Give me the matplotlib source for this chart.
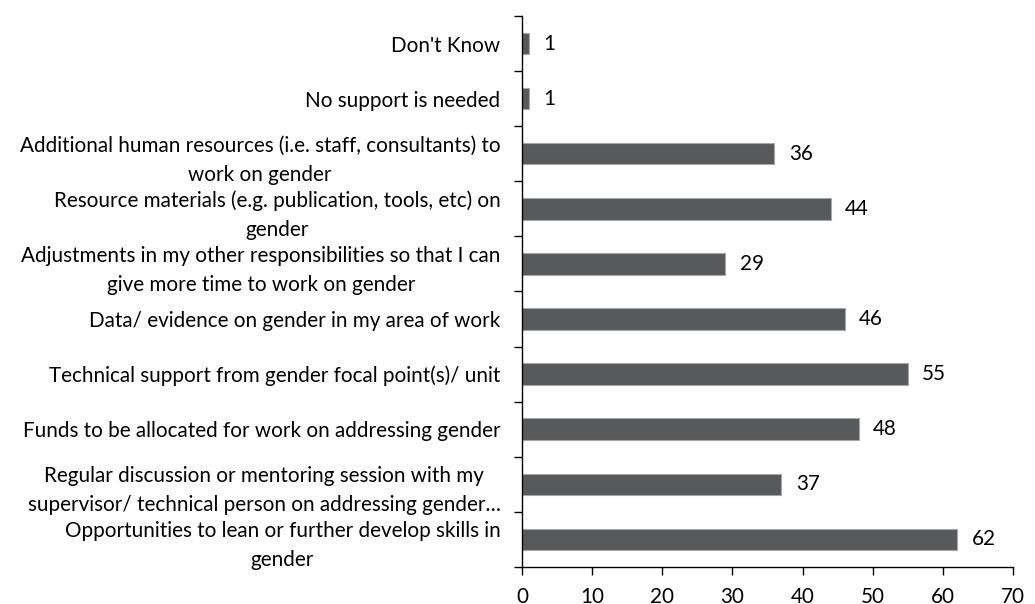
import numpy as np
import matplotlib.pyplot as plt

# survey responses: support needed to work on gender (top to bottom)
labels = [
    "Don't Know",
    "No support is needed",
    "Additional human resources (i.e. staff, consultants) to\nwork on gender",
    "Resource materials (e.g. publication, tools, etc) on\ngender",
    "Adjustments in my other responsibilities so that I can\ngive more time to work on gender",
    "Data/ evidence on gender in my area of work",
    "Technical support from gender focal point(s)/ unit",
    "Funds to be allocated for work on addressing gender",
    "Regular discussion or mentoring session with my\nsupervisor/ technical person on addressing gender\u2026",
    "Opportunities to lean or further develop skills in\ngender",
]
counts = [1, 1, 36, 44, 29, 46, 55, 48, 37, 62]
xticks = [0, 10, 20, 30, 40, 50, 60, 70]

plt.rcParams['font.family'] = ['Lato', 'DejaVu Sans']
FS = 14.9

fig = plt.figure(figsize=(10.35, 6.04), dpi=100)
ax = fig.add_axes([0.5043, 0.0613, 0.4744, 0.9122])

y = np.arange(len(labels))
ax.barh(y, counts, height=0.39, color='#58595b', edgecolor='#a6a6a6', linewidth=0.8)

for yi, v in zip(y, counts):
    ax.annotate(str(v), (v, yi), xytext=(10.5, 0), textcoords='offset points',
                ha='left', va='center', fontsize=FS, color='black')

ax.set_xlim(0, 70)
ax.set_ylim(len(labels) - 0.5, -0.5)
ax.set_xticks(xticks)
ax.set_xticklabels([str(t) for t in xticks], fontsize=FS)

# tick marks at category boundaries, labels at category centres
ax.set_yticks(np.arange(-0.5, len(labels)), minor=False)
ax.set_yticklabels([])
ax.set_yticks(y, minor=True)
ax.set_yticklabels(labels, minor=True, fontsize=FS, multialignment='center',
                   linespacing=1.55)
ax.tick_params(axis='y', which='minor', length=0, pad=15.5)
ax.tick_params(axis='y', which='major', length=6, width=1, direction='out')
ax.tick_params(axis='x', length=6, width=1, direction='out', pad=8.5)

for s in ['top', 'right']:
    ax.spines[s].set_visible(False)
for s in ['left', 'bottom']:
    ax.spines[s].set_linewidth(1)
    ax.spines[s].set_color('black')

plt.savefig('out.png', dpi=100)
